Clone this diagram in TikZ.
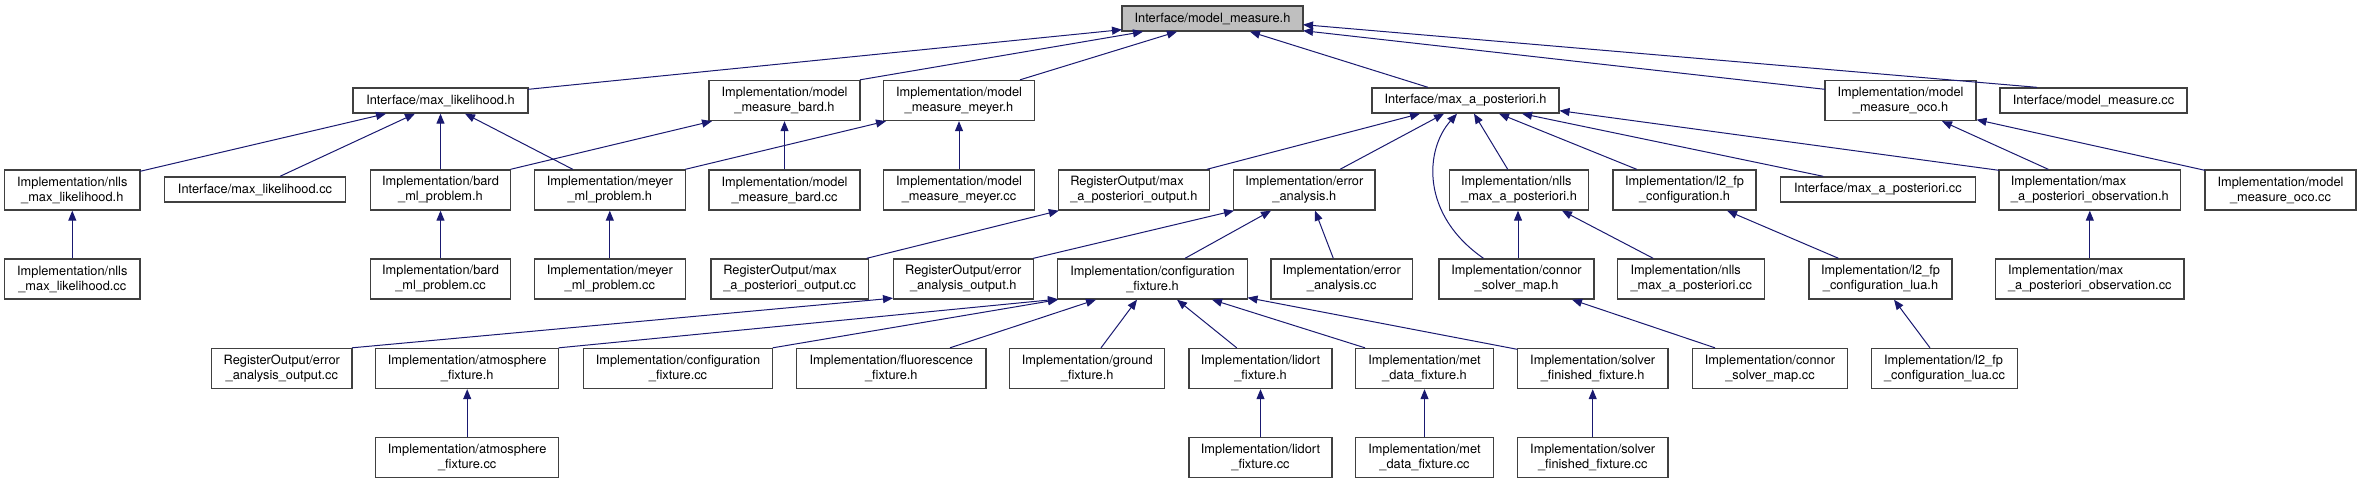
\documentclass[tikz,border=0pt]{standalone}
\usepackage{fontspec}
\setmainfont{TeX Gyre Heros}
\usetikzlibrary{arrows.meta,calc}

\definecolor{boxgray}{HTML}{404040}
\definecolor{rootgray}{HTML}{BFBFBF}
\definecolor{depblue}{HTML}{191970}

\newlength\lnA
\newlength\lnB
\newcommand\twoline[2]{\settowidth\lnA{#1}\settowidth\lnB{#2}%
  \ifdim\lnB>\lnA \lnA=\lnB\fi
  \makebox[\lnA][l]{#1}\\#2}

\tikzset{
  file/.style={draw=boxgray, line width=1pt, fill=white, align=center, inner sep=0pt,
    minimum height=18.75pt, font=\fontsize{9.6}{11.25}\selectfont},
  file2/.style={file, minimum height=30pt},
  boxw/.style={minimum width=#1*0.75pt},
  dep/.style={draw=depblue, line width=0.75pt, -{Triangle[length=7.5pt,width=6pt]}}
}

\begin{document}
\begin{tikzpicture}[x=0.75pt,y=-0.75pt]
\useasboundingbox (0,0) rectangle (2361,484);
%
	\node[file,boxw=181,fill=rootgray] (root) at (1212.5,18.5) {Interface/model\_measure.h};
%
	\node[file,boxw=175] (mlh) at (440.5,100.5) {Interface/max\_likelihood.h};
	\node[file2,boxw=151] (mmbh) at (784.5,100.5) {\twoline{Implementation/model}{\_measure\_bard.h}};
	\node[file2,boxw=150.5] (mmmh) at (959,100.5) {\twoline{Implementation/model}{\_measure\_meyer.h}};
	\node[file,boxw=187] (maph) at (1465.5,100.5) {Interface/max\_a\_posteriori.h};
	\node[file2,boxw=151] (mmoh) at (1900.5,100.5) {\twoline{Implementation/model}{\_measure\_oco.h}};
	\node[file,boxw=187] (mmcc) at (2093.5,100.5) {Interface/model\_measure.cc};
%
	\node[file2,boxw=135.5] (nmlh) at (72.3,190) {\twoline{Implementation/nlls}{\_max\_likelihood.h}};
	\node[file,boxw=181.4] (mlcc) at (255,189.5) {Interface/max\_likelihood.cc};
	\node[file2,boxw=140.4] (bmlh) at (440.5,190) {\twoline{Implementation/bard}{\_ml\_problem.h}};
	\node[file2,boxw=151] (mymlh) at (609.8,190) {\twoline{Implementation/meyer}{\_ml\_problem.h}};
	\node[file2,boxw=151] (mmbcc) at (784.5,190) {\twoline{Implementation/model}{\_measure\_bard.cc}};
	\node[file2,boxw=150.6] (mmmcc) at (959,190) {\twoline{Implementation/model}{\_measure\_meyer.cc}};
	\node[file2,boxw=151] (rmaph) at (1133.8,190) {\twoline{RegisterOutput/max}{\_a\_posteriori\_output.h}};
	\node[file2,boxw=141.3] (eah) at (1304.3,190) {\twoline{Implementation/error}{\_analysis.h}};
	\node[file2,boxw=139.4] (nmaph) at (1519,190) {\twoline{Implementation/nlls}{\_max\_a\_posteriori.h}};
	\node[file2,boxw=143] (l2h) at (1684.5,190) {\twoline{Implementation/l2\_fp}{\_configuration.h}};
	\node[file,boxw=195] (mapcc) at (1877.8,189.5) {Interface/max\_a\_posteriori.cc};
	\node[file2,boxw=181.7] (mapoh) at (2089.8,190) {\twoline{Implementation/max}{\_a\_posteriori\_observation.h}};
	\node[file2,boxw=151] (mmocc) at (2280.5,190) {\twoline{Implementation/model}{\_measure\_oco.cc}};
%
	\node[file2,boxw=135.5] (nmlcc) at (72.3,279) {\twoline{Implementation/nlls}{\_max\_likelihood.cc}};
	\node[file2,boxw=140.4] (bmlcc) at (440.5,279) {\twoline{Implementation/bard}{\_ml\_problem.cc}};
	\node[file2,boxw=151] (mymlcc) at (609.8,279) {\twoline{Implementation/meyer}{\_ml\_problem.cc}};
	\node[file2,boxw=157.3] (rmapcc) at (789.7,279) {\twoline{RegisterOutput/max}{\_a\_posteriori\_output.cc}};
	\node[file2,boxw=140] (reah) at (963.3,279) {\twoline{RegisterOutput/error}{\_analysis\_output.h}};
	\node[file2,boxw=189.6] (cfh) at (1152.5,279) {\twoline{Implementation/configuration}{\_fixture.h}};
	\node[file2,boxw=141.3] (eacc) at (1341.7,279) {\twoline{Implementation/error}{\_analysis.cc}};
	\node[file2,boxw=155] (csmh) at (1516.5,279) {\twoline{Implementation/connor}{\_solver\_map.h}};
	\node[file2,boxw=147] (nmapcc) at (1691.2,279) {\twoline{Implementation/nlls}{\_max\_a\_posteriori.cc}};
	\node[file2,boxw=143] (l2luah) at (1880.5,279) {\twoline{Implementation/l2\_fp}{\_configuration\_lua.h}};
	\node[file2,boxw=188.3] (mapocc) at (2089.8,279) {\twoline{Implementation/max}{\_a\_posteriori\_observation.cc}};
%
	\node[file2,boxw=140.3] (reacc) at (281.8,368.5) {\twoline{RegisterOutput/error}{\_analysis\_output.cc}};
	\node[file2,boxw=183] (afh) at (467.2,368.5) {\twoline{Implementation/atmosphere}{\_fixture.h}};
	\node[file2,boxw=189.4] (cfcc) at (678,368.5) {\twoline{Implementation/configuration}{\_fixture.cc}};
	\node[file2,boxw=189.3] (ffh) at (891.3,368.5) {\twoline{Implementation/fluorescence}{\_fixture.h}};
	\node[file2,boxw=155] (gfh) at (1087.2,368.5) {\twoline{Implementation/ground}{\_fixture.h}};
	\node[file2,boxw=143] (lfh) at (1260.5,368.5) {\twoline{Implementation/lidort}{\_fixture.h}};
	\node[file2,boxw=137.6] (mdfh) at (1424.5,368.5) {\twoline{Implementation/met}{\_data\_fixture.h}};
	\node[file2,boxw=150.7] (sffh) at (1592.7,368.5) {\twoline{Implementation/solver}{\_finished\_fixture.h}};
	\node[file2,boxw=154.6] (csmcc) at (1770,368.5) {\twoline{Implementation/connor}{\_solver\_map.cc}};
	\node[file2,boxw=145.6] (l2luacc) at (1944.5,368.5) {\twoline{Implementation/l2\_fp}{\_configuration\_lua.cc}};
%
	\node[file2,boxw=183] (afcc) at (467.2,457.5) {\twoline{Implementation/atmosphere}{\_fixture.cc}};
	\node[file2,boxw=143] (lfcc) at (1260.5,457.5) {\twoline{Implementation/lidort}{\_fixture.cc}};
	\node[file2,boxw=137.6] (mdfcc) at (1424.5,457.5) {\twoline{Implementation/met}{\_data\_fixture.cc}};
	\node[file2,boxw=150.7] (sffcc) at (1592.7,457.5) {\twoline{Implementation/solver}{\_finished\_fixture.cc}};
%
	\foreach \c/\dc/\p/\dp in {
		mlh/{87.5,2}/root/{-90.5,-2}, mmbh/{75.5,0}/root/{-69.5,0}, mmmh/{61,0}/root/{-35.5,0},
		maph/{-37.5,0}/root/{37.5,0}, mmoh/{-75.5,9.5}/root/{90.5,-1}, mmcc/{-56.5,0}/root/{90.5,-7},
		nmlh/{67.7,2}/mlh/{-54.5,0}, mlcc/{25,0}/mlh/{-25.5,0}, bmlh/{0,0}/mlh/{0,0},
		mymlh/{-37,0}/mlh/{24.5,0}, bmlh/{70,0}/mmbh/{-72.5,0}, mmbcc/{0,0}/mmbh/{0,0},
		mymlh/{75.5,0}/mmmh/{-73,0}, mmmcc/{0,0}/mmmh/{0,0},
		rmaph/{73,0}/maph/{-45.5,0}, eah/{35.7,0}/maph/{-21.5,0}, nmaph/{-11.3,0}/maph/{8.5,0},
		l2h/{-47.8,0}/maph/{33.5,0}, mapcc/{-54.5,0}/maph/{56.5,0}, mapoh/{-90.8,1}/maph/{94,-3},
		mapoh/{-41.5,0}/mmoh/{41.5,0}, mmocc/{-75.5,1}/mmoh/{76,-1.5},
		nmlcc/{0,0}/nmlh/{0,0}, bmlcc/{0,0}/bmlh/{0,0}, mymlcc/{0,0}/mymlh/{0,0},
		rmapcc/{77,0}/rmaph/{-75,0}, reah/{70,0}/eah/{-70.3,0}, cfh/{32.5,0}/eah/{-33.3,0},
		eacc/{-8.4,0}/eah/{10.7,0}, csmh/{1.5,0}/nmaph/{-1,0}, nmapcc/{-38,0}/nmaph/{43,0},
		l2luah/{-42,0}/l2h/{42.5,0}, mapocc/{0,0}/mapoh/{0,0},
		reacc/{70,0}/reah/{-70.3,-1.5}, afh/{91.5,0}/cfh/{-94.5,-0.5}, cfcc/{94.7,0}/cfh/{-94.5,0},
		ffh/{58.7,0}/cfh/{-56.5,0}, gfh/{13.8,0}/cfh/{-15.5,0}, lfh/{-23.8,0}/cfh/{24.5,0},
		mdfh/{-59.5,0}/cfh/{59.5,0}, sffh/{-75.4,1.5}/cfh/{95,-2},
		csmcc/{-55,0}/csmh/{55.5,0}, l2luacc/{-14.5,0}/l2luah/{13.5,0},
		afcc/{0,0}/afh/{0,0}, lfcc/{0,0}/lfh/{0,0}, mdfcc/{0,0}/mdfh/{0,0}, sffcc/{0,0}/sffh/{0,0}}
		\draw[dep] ($(\c.north)+(\dc)$) -- ($(\p.south)+(\dp)$);
%
	\draw[dep] ($(csmh.north)+(-33,0)$) .. controls ($(csmh.north)+(-96.5,-44)$)
		and ($(csmh.north)+(-91.5,-109)$) .. ($(maph.south)+(-8.5,0)$);
\end{tikzpicture}
\end{document}
